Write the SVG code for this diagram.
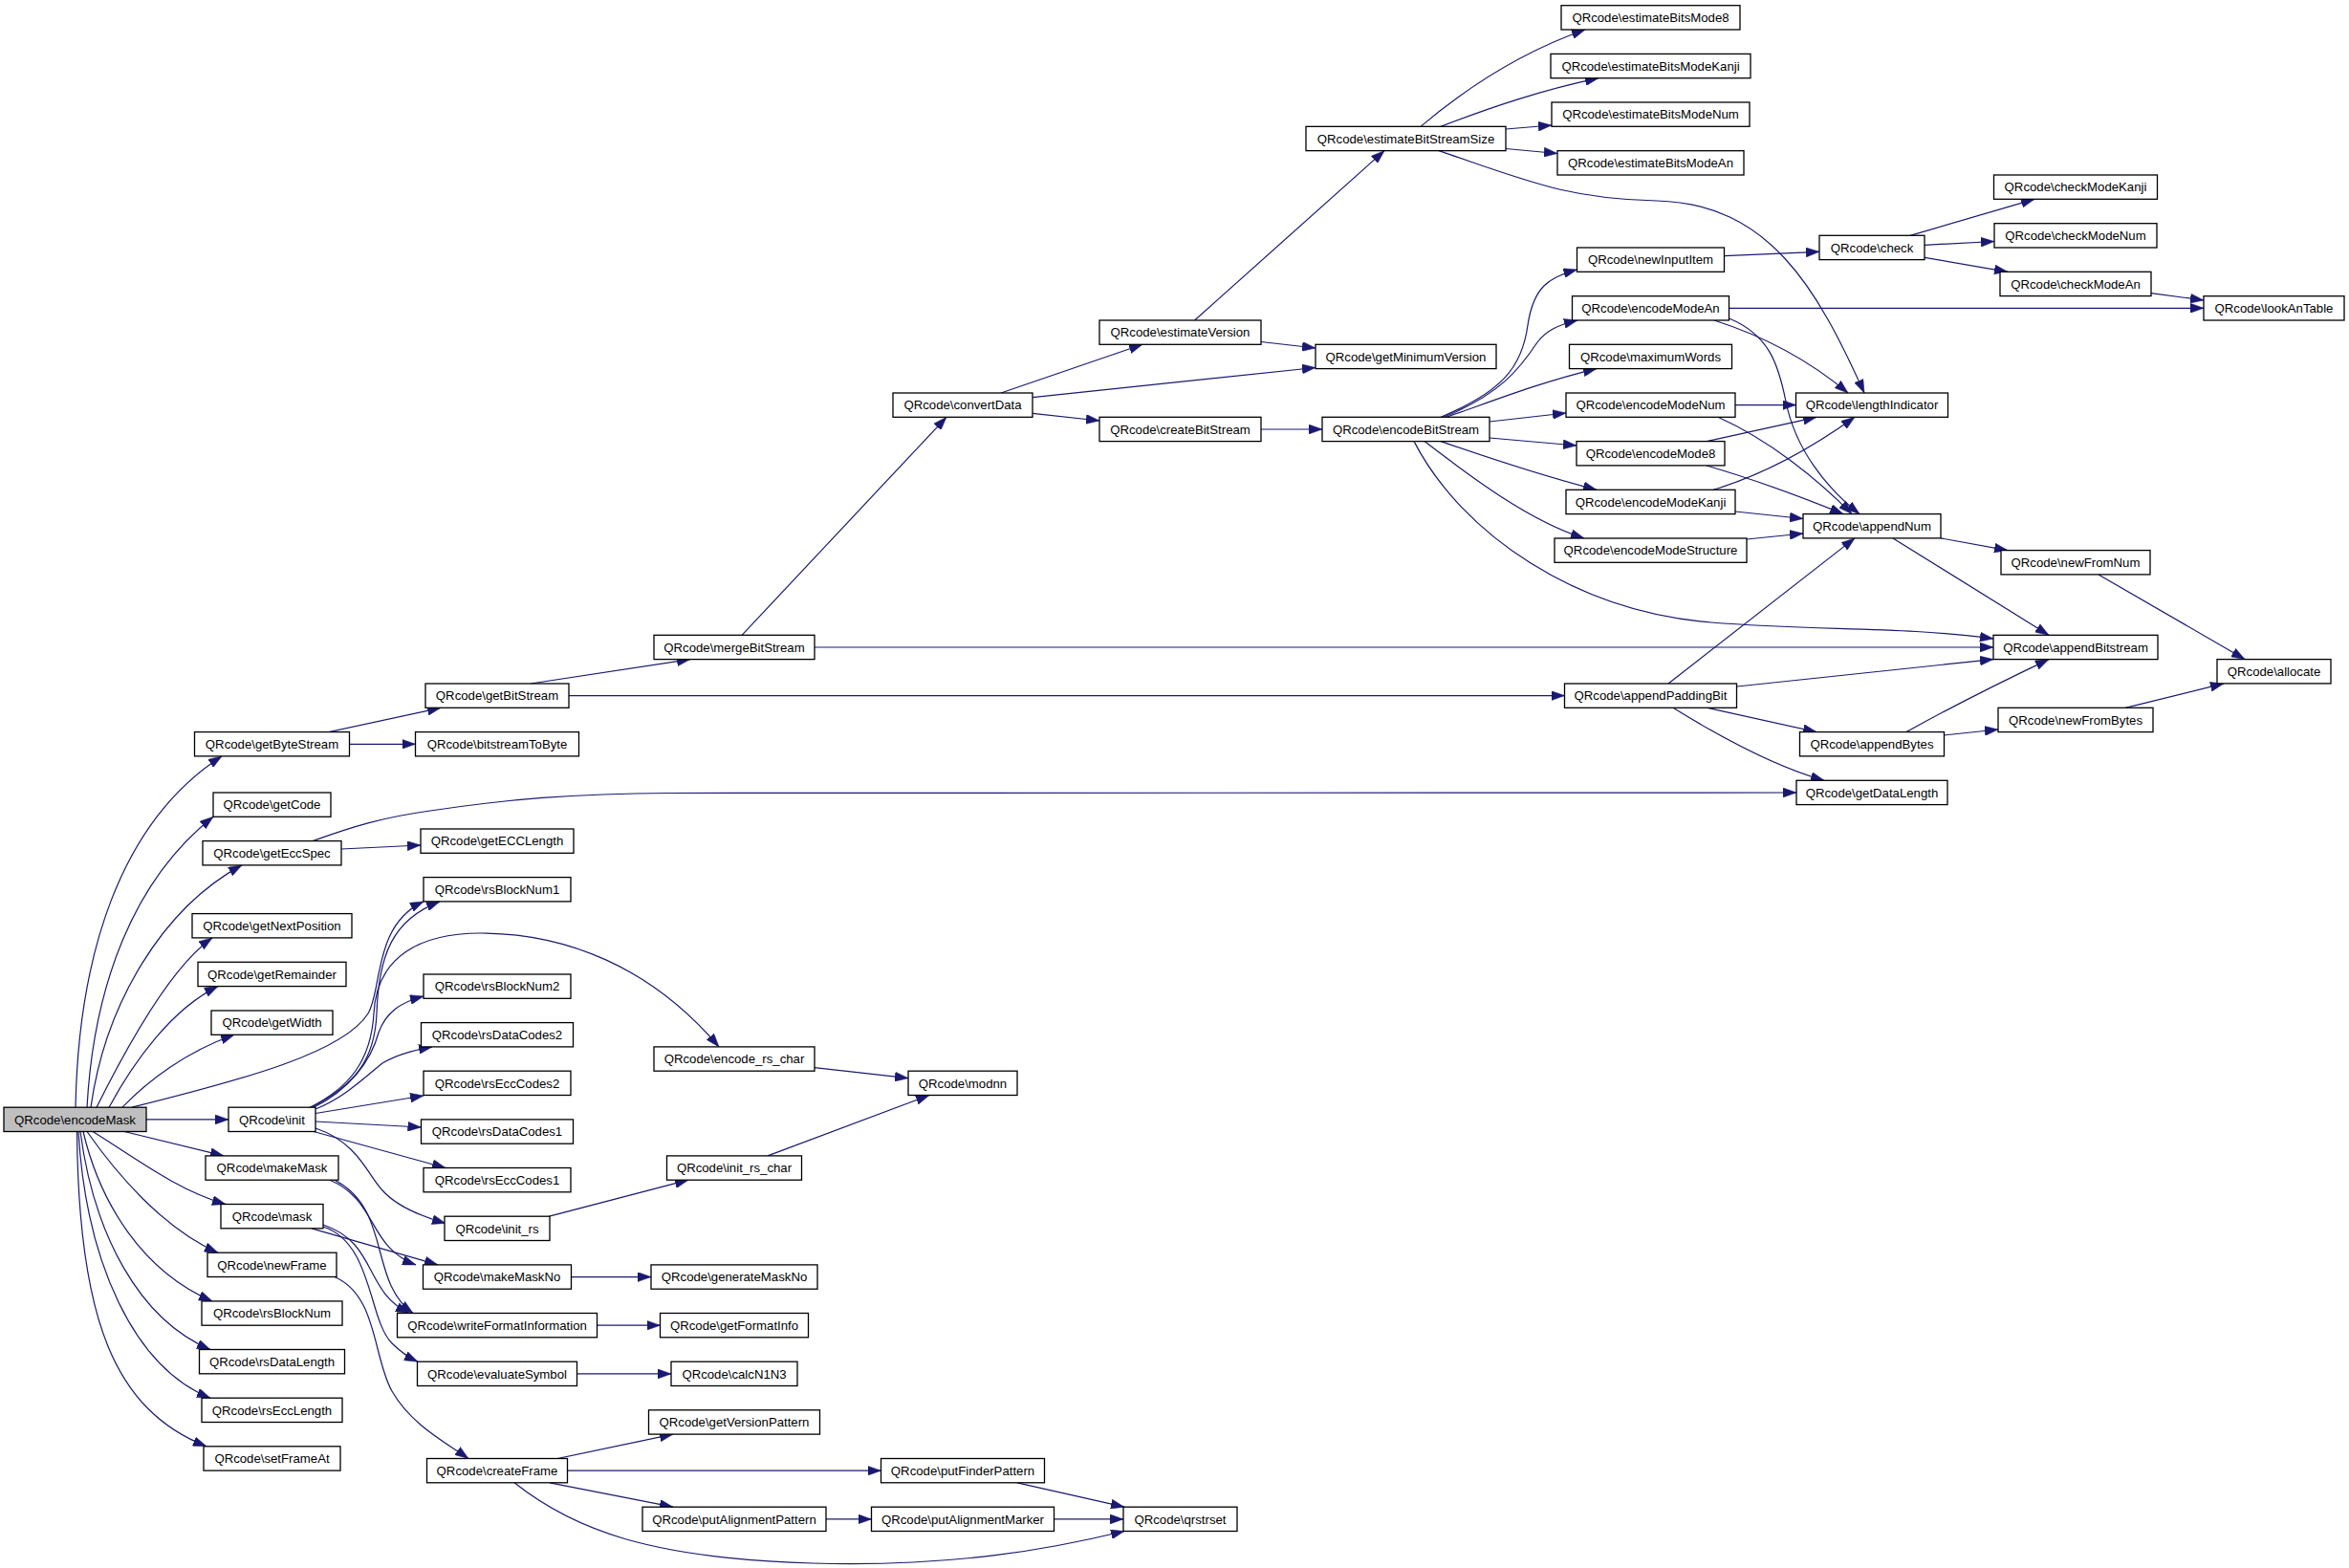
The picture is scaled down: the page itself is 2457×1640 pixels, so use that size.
<svg xmlns="http://www.w3.org/2000/svg" width="2457" height="1640" viewBox="0 0 2457 1640">
<style>
.n rect{fill:#fff;stroke:#000;stroke-width:1.3}
.n text{font-family:"Liberation Sans",Arial,sans-serif;font-size:13.2px;text-anchor:middle;fill:#000}
#encodeMask rect{fill:#bfbfbf}
.e path{fill:none;stroke:#191970;stroke-width:1.2;marker-end:url(#a)}
</style>
<defs>
<marker id="a" markerUnits="userSpaceOnUse" markerWidth="14" markerHeight="10" refX="14" refY="5" orient="auto" viewBox="0 0 14 10">
<path d="M0,0 L14,5 L0,10 z" fill="#191970" stroke="#191970" stroke-width="0.5"/>
</marker>
</defs>
<rect width="2457" height="1640" fill="#fff"/>
<g id="edges" class="e">
<path d="M79,1158.2 C82,1000 125,860 232,790.9"/>
<path d="M91,1158.2 C98,1030 140,920 223,854.3"/>
<path d="M95,1158.2 C110,1050 170,950 253,904.9"/>
<path d="M101,1158.2 C135,1090 180,1010 222,980.9"/>
<path d="M114,1158.2 C140,1110 180,1055 228,1031.6"/>
<path d="M128,1158.2 C155,1130 195,1100 245,1082.3"/>
<path d="M138,1158.2 C260,1128 360,1100 385,1060 C400,1035 390,968 443,942.9"/>
<path d="M153,1170.9 L239,1170.9"/>
<path d="M130,1183.5 L234,1208.9"/>
<path d="M97,1183.5 C140,1210 185,1245 236,1259.5"/>
<path d="M91,1183.5 C120,1225 170,1285 228,1310.2"/>
<path d="M87,1183.5 C105,1260 150,1330 222,1360.9"/>
<path d="M84,1183.5 C98,1290 145,1380 220,1411.5"/>
<path d="M82,1183.5 C90,1320 140,1430 220,1462.2"/>
<path d="M80.5,1183.5 C82,1380 120,1475 216,1512.8"/>
<path d="M326,1158.2 C370,1135 392,1110 394,1060 C396,1000 410,962 460,942.9"/>
<path d="M328,1158.2 C365,1140 388,1110 396,1080 C404,1058 420,1048 443,1042"/>
<path d="M330,1160 C360,1148 380,1128 400,1112 C415,1103 435,1098 452,1094.9"/>
<path d="M330,1164.5 L443,1146"/>
<path d="M330,1173 L440.5,1179"/>
<path d="M328,1183.5 L466,1221.5"/>
<path d="M330,1180 C375,1195 385,1230 400,1245 C415,1262 440,1272 466,1279.5"/>
<path d="M324,1158.2 C365,1138 388,1110 391,1060 C394,1000 440,976 503,976 C590,976 680,1010 752,1094.9"/>
<path d="M852,1116.7 L950,1127.7"/>
<path d="M574.5,1272.2 L720,1234.2"/>
<path d="M803,1208.9 L972,1145.5"/>
<path d="M345,1234.2 C395,1255 385,1305 435,1322.9"/>
<path d="M350,1234.2 C410,1265 385,1340 432,1373.5"/>
<path d="M326,1284.8 L458,1322.9"/>
<path d="M338,1281 C395,1300 380,1350 428,1373.5"/>
<path d="M338,1283 C390,1300 385,1380 410,1405 C420,1415 428,1420 437,1424.2"/>
<path d="M350,1335.5 C395,1355 390,1420 410,1455 C430,1490 465,1508 490,1525.5"/>
<path d="M597.5,1335.6 L681,1335.6"/>
<path d="M624.5,1386.2 L690.5,1386.2"/>
<path d="M603.5,1436.9 L702,1436.9"/>
<path d="M583,1525.5 L704,1500.1"/>
<path d="M593.5,1538.2 L921.5,1538.2"/>
<path d="M575,1550.8 L704,1576.2"/>
<path d="M538,1550.8 C600,1600 680,1630 850,1635 C1000,1639 1100,1620 1176,1601.5"/>
<path d="M864,1588.9 L911.5,1588.9"/>
<path d="M1102.5,1588.9 L1175,1588.9"/>
<path d="M1064,1550.8 L1176,1576.2"/>
<path d="M344,765.6 L461,740.3"/>
<path d="M365.5,778.3 L434.5,778.3"/>
<path d="M555,715 L722,689.6"/>
<path d="M595,727.6 L1636.5,727.6"/>
<path d="M776,664.3 L990,436.3"/>
<path d="M852,677 L2085,677"/>
<path d="M357,888 L440,884"/>
<path d="M327,879.6 C370,864 400,855 450,848 C530,836 600,830 700,829.5 L1879,829"/>
<path d="M1047,411 L1195,360.3"/>
<path d="M1080,415.7 L1376,384.5"/>
<path d="M1080,432.3 L1150,440"/>
<path d="M1249.6,335 L1448,157.65"/>
<path d="M1319,357.5 L1376,364"/>
<path d="M1319,449 L1383,449"/>
<path d="M1486,132.35 C1530,95 1590,55 1658,31"/>
<path d="M1507,132.35 C1560,112 1610,95 1672,81.7"/>
<path d="M1575,135 L1623,131"/>
<path d="M1575,155.5 L1629,160.5"/>
<path d="M1505,157.65 C1600,190 1640,208 1733,210 C1850,213 1900,300 1950,411"/>
<path d="M1507,436.3 C1570,410 1592,385 1598,340 C1604,300 1620,290 1649.5,282"/>
<path d="M1510,436.3 C1570,412 1590,385 1608,358 C1618,345 1630,340 1650,335"/>
<path d="M1513,436.3 C1560,420 1610,400 1670,385.6"/>
<path d="M1558,441 L1638,432"/>
<path d="M1558,458 L1649,466"/>
<path d="M1507,461.6 C1560,480 1610,497 1670,512.3"/>
<path d="M1490,461.6 C1540,500 1600,545 1657,563"/>
<path d="M1479,461.6 C1530,560 1650,640 1790,651 C1900,660 1990,655 2085,668"/>
<path d="M1803.5,267.7 L1903,263.3"/>
<path d="M1998,246.3 L2128,208.3"/>
<path d="M2013,256.3 L2086,252.5"/>
<path d="M2013,269.3 L2100,284.3"/>
<path d="M2250,306.7 L2305,314"/>
<path d="M1808.5,322.3 L2305,322.3"/>
<path d="M1793,335 C1840,350 1890,375 1933,411"/>
<path d="M1808.5,333 C1850,350 1860,380 1868,420 C1878,470 1910,510 1945,537.6"/>
<path d="M1815,423.6 L1878.5,423.6"/>
<path d="M1797,436.3 C1850,460 1900,500 1937,537.6"/>
<path d="M1785,461.6 L1900,436.3"/>
<path d="M1785,487 C1830,500 1880,518 1928,537.6"/>
<path d="M1792,512.3 C1850,495 1900,465 1940,436.3"/>
<path d="M1815,535 L1886,542.5"/>
<path d="M1827,564 L1886,558"/>
<path d="M2030,562.9 L2100,575.6"/>
<path d="M1980,562.9 L2143,664.3"/>
<path d="M2195,600.9 L2348,689.6"/>
<path d="M1745,715 L1940,562.9"/>
<path d="M1817,718 L2085,689.6"/>
<path d="M1786,740.3 L1900,765.6"/>
<path d="M1750,740.3 C1790,765 1850,800 1908,816.3"/>
<path d="M1994,765.6 C2040,740 2100,710 2143,689.6"/>
<path d="M2033,769 L2090,763"/>
<path d="M2223,740.3 L2326,714.9"/>
</g>
<g id="encodeMask" class="n"><rect x="4" y="1158.2" width="149" height="25.3"/><text x="78.5" y="1175.5">QRcode\encodeMask</text></g>
<g id="getByteStream" class="n"><rect x="203.5" y="765.6" width="162" height="25.3"/><text x="284.5" y="782.9">QRcode\getByteStream</text></g>
<g id="getCode" class="n"><rect x="223" y="829" width="123" height="25.3"/><text x="284.5" y="846.3">QRcode\getCode</text></g>
<g id="getEccSpec" class="n"><rect x="212" y="879.6" width="145" height="25.3"/><text x="284.5" y="896.9">QRcode\getEccSpec</text></g>
<g id="getNextPosition" class="n"><rect x="201" y="955.6" width="167" height="25.3"/><text x="284.5" y="972.9">QRcode\getNextPosition</text></g>
<g id="getRemainder" class="n"><rect x="207" y="1006.3" width="155" height="25.3"/><text x="284.5" y="1023.6">QRcode\getRemainder</text></g>
<g id="getWidth" class="n"><rect x="221" y="1057" width="127" height="25.3"/><text x="284.5" y="1074.3">QRcode\getWidth</text></g>
<g id="init" class="n"><rect x="239" y="1158.2" width="91" height="25.3"/><text x="284.5" y="1175.5">QRcode\init</text></g>
<g id="makeMask" class="n"><rect x="215" y="1208.9" width="139" height="25.3"/><text x="284.5" y="1226.2">QRcode\makeMask</text></g>
<g id="mask" class="n"><rect x="231" y="1259.5" width="107" height="25.3"/><text x="284.5" y="1276.8">QRcode\mask</text></g>
<g id="newFrame" class="n"><rect x="217" y="1310.2" width="135" height="25.3"/><text x="284.5" y="1327.5">QRcode\newFrame</text></g>
<g id="rsBlockNum" class="n"><rect x="211" y="1360.9" width="147" height="25.3"/><text x="284.5" y="1378.2">QRcode\rsBlockNum</text></g>
<g id="rsDataLength" class="n"><rect x="208.5" y="1411.5" width="152" height="25.3"/><text x="284.5" y="1428.8">QRcode\rsDataLength</text></g>
<g id="rsEccLength" class="n"><rect x="211" y="1462.2" width="147" height="25.3"/><text x="284.5" y="1479.5">QRcode\rsEccLength</text></g>
<g id="setFrameAt" class="n"><rect x="213" y="1512.8" width="143" height="25.3"/><text x="284.5" y="1530.1">QRcode\setFrameAt</text></g>
<g id="getBitStream" class="n"><rect x="445" y="715" width="150" height="25.3"/><text x="520" y="732.3">QRcode\getBitStream</text></g>
<g id="bitstreamToByte" class="n"><rect x="434.5" y="765.6" width="171" height="25.3"/><text x="520" y="782.9">QRcode\bitstreamToByte</text></g>
<g id="getECCLength" class="n"><rect x="440" y="867" width="160" height="25.3"/><text x="520" y="884.3">QRcode\getECCLength</text></g>
<g id="rsBlockNum1" class="n"><rect x="443" y="917.6" width="154" height="25.3"/><text x="520" y="934.9">QRcode\rsBlockNum1</text></g>
<g id="rsBlockNum2" class="n"><rect x="443" y="1019" width="154" height="25.3"/><text x="520" y="1036.3">QRcode\rsBlockNum2</text></g>
<g id="rsDataCodes2" class="n"><rect x="440.5" y="1069.6" width="159" height="25.3"/><text x="520" y="1086.9">QRcode\rsDataCodes2</text></g>
<g id="rsEccCodes2" class="n"><rect x="443" y="1120.2" width="154" height="25.3"/><text x="520" y="1137.5">QRcode\rsEccCodes2</text></g>
<g id="rsDataCodes1" class="n"><rect x="440.5" y="1170.9" width="159" height="25.3"/><text x="520" y="1188.2">QRcode\rsDataCodes1</text></g>
<g id="rsEccCodes1" class="n"><rect x="443" y="1221.5" width="154" height="25.3"/><text x="520" y="1238.8">QRcode\rsEccCodes1</text></g>
<g id="init_rs" class="n"><rect x="465" y="1272.2" width="110" height="25.3"/><text x="520" y="1289.5">QRcode\init_rs</text></g>
<g id="makeMaskNo" class="n"><rect x="442.5" y="1322.9" width="155" height="25.3"/><text x="520" y="1340.2">QRcode\makeMaskNo</text></g>
<g id="writeFormatInformation" class="n"><rect x="415.5" y="1373.5" width="209" height="25.3"/><text x="520" y="1390.8">QRcode\writeFormatInformation</text></g>
<g id="evaluateSymbol" class="n"><rect x="436.5" y="1424.2" width="167" height="25.3"/><text x="520" y="1441.5">QRcode\evaluateSymbol</text></g>
<g id="createFrame" class="n"><rect x="446.5" y="1525.5" width="147" height="25.3"/><text x="520" y="1542.8">QRcode\createFrame</text></g>
<g id="mergeBitStream" class="n"><rect x="684" y="664.3" width="168" height="25.3"/><text x="768" y="681.6">QRcode\mergeBitStream</text></g>
<g id="encode_rs_char" class="n"><rect x="684" y="1094.9" width="168" height="25.3"/><text x="768" y="1112.2">QRcode\encode_rs_char</text></g>
<g id="init_rs_char" class="n"><rect x="697.5" y="1208.9" width="141" height="25.3"/><text x="768" y="1226.2">QRcode\init_rs_char</text></g>
<g id="generateMaskNo" class="n"><rect x="681" y="1322.9" width="174" height="25.3"/><text x="768" y="1340.2">QRcode\generateMaskNo</text></g>
<g id="getFormatInfo" class="n"><rect x="690.5" y="1373.5" width="155" height="25.3"/><text x="768" y="1390.8">QRcode\getFormatInfo</text></g>
<g id="calcN1N3" class="n"><rect x="702" y="1424.2" width="132" height="25.3"/><text x="768" y="1441.5">QRcode\calcN1N3</text></g>
<g id="getVersionPattern" class="n"><rect x="678.5" y="1474.8" width="179" height="25.3"/><text x="768" y="1492.1">QRcode\getVersionPattern</text></g>
<g id="putAlignmentPattern" class="n"><rect x="672" y="1576.2" width="192" height="25.3"/><text x="768" y="1593.5">QRcode\putAlignmentPattern</text></g>
<g id="convertData" class="n"><rect x="934" y="411" width="146" height="25.3"/><text x="1007" y="428.3">QRcode\convertData</text></g>
<g id="modnn" class="n"><rect x="950" y="1120.2" width="114" height="25.3"/><text x="1007" y="1137.5">QRcode\modnn</text></g>
<g id="putFinderPattern" class="n"><rect x="921.5" y="1525.5" width="171" height="25.3"/><text x="1007" y="1542.8">QRcode\putFinderPattern</text></g>
<g id="putAlignmentMarker" class="n"><rect x="911.5" y="1576.2" width="191" height="25.3"/><text x="1007" y="1593.5">QRcode\putAlignmentMarker</text></g>
<g id="estimateVersion" class="n"><rect x="1150" y="335" width="169" height="25.3"/><text x="1234.5" y="352.3">QRcode\estimateVersion</text></g>
<g id="createBitStream" class="n"><rect x="1150" y="436.3" width="169" height="25.3"/><text x="1234.5" y="453.6">QRcode\createBitStream</text></g>
<g id="qrstrset" class="n"><rect x="1175" y="1576.2" width="119" height="25.3"/><text x="1234.5" y="1593.5">QRcode\qrstrset</text></g>
<g id="estimateBitStreamSize" class="n"><rect x="1366" y="132.35" width="209" height="25.3"/><text x="1470.5" y="149.65">QRcode\estimateBitStreamSize</text></g>
<g id="getMinimumVersion" class="n"><rect x="1376" y="360.3" width="189" height="25.3"/><text x="1470.5" y="377.6">QRcode\getMinimumVersion</text></g>
<g id="encodeBitStream" class="n"><rect x="1383" y="436.3" width="175" height="25.3"/><text x="1470.5" y="453.6">QRcode\encodeBitStream</text></g>
<g id="estimateBitsMode8" class="n"><rect x="1633" y="5.7" width="187" height="25.3"/><text x="1726.5" y="23">QRcode\estimateBitsMode8</text></g>
<g id="estimateBitsModeKanji" class="n"><rect x="1622" y="56.4" width="209" height="25.3"/><text x="1726.5" y="73.7">QRcode\estimateBitsModeKanji</text></g>
<g id="estimateBitsModeNum" class="n"><rect x="1623" y="107" width="207" height="25.3"/><text x="1726.5" y="124.3">QRcode\estimateBitsModeNum</text></g>
<g id="estimateBitsModeAn" class="n"><rect x="1629" y="157.7" width="195" height="25.3"/><text x="1726.5" y="175">QRcode\estimateBitsModeAn</text></g>
<g id="newInputItem" class="n"><rect x="1649.5" y="259" width="154" height="25.3"/><text x="1726.5" y="276.3">QRcode\newInputItem</text></g>
<g id="encodeModeAn" class="n"><rect x="1644.5" y="309.7" width="164" height="25.3"/><text x="1726.5" y="327">QRcode\encodeModeAn</text></g>
<g id="maximumWords" class="n"><rect x="1641.5" y="360.3" width="170" height="25.3"/><text x="1726.5" y="377.6">QRcode\maximumWords</text></g>
<g id="encodeModeNum" class="n"><rect x="1638" y="411" width="177" height="25.3"/><text x="1726.5" y="428.3">QRcode\encodeModeNum</text></g>
<g id="encodeMode8" class="n"><rect x="1649" y="461.6" width="155" height="25.3"/><text x="1726.5" y="478.9">QRcode\encodeMode8</text></g>
<g id="encodeModeKanji" class="n"><rect x="1638" y="512.3" width="177" height="25.3"/><text x="1726.5" y="529.6">QRcode\encodeModeKanji</text></g>
<g id="encodeModeStructure" class="n"><rect x="1626" y="563" width="201" height="25.3"/><text x="1726.5" y="580.3">QRcode\encodeModeStructure</text></g>
<g id="appendPaddingBit" class="n"><rect x="1636.5" y="715" width="180" height="25.3"/><text x="1726.5" y="732.3">QRcode\appendPaddingBit</text></g>
<g id="check" class="n"><rect x="1903" y="246.3" width="110" height="25.3"/><text x="1958" y="263.6">QRcode\check</text></g>
<g id="lengthIndicator" class="n"><rect x="1878.5" y="411" width="159" height="25.3"/><text x="1958" y="428.3">QRcode\lengthIndicator</text></g>
<g id="appendNum" class="n"><rect x="1886" y="537.6" width="144" height="25.3"/><text x="1958" y="554.9">QRcode\appendNum</text></g>
<g id="appendBytes" class="n"><rect x="1882.5" y="765.6" width="151" height="25.3"/><text x="1958" y="782.9">QRcode\appendBytes</text></g>
<g id="getDataLength" class="n"><rect x="1879" y="816.3" width="158" height="25.3"/><text x="1958" y="833.6">QRcode\getDataLength</text></g>
<g id="checkModeKanji" class="n"><rect x="2085.5" y="183" width="171" height="25.3"/><text x="2171" y="200.3">QRcode\checkModeKanji</text></g>
<g id="checkModeNum" class="n"><rect x="2086" y="233.7" width="170" height="25.3"/><text x="2171" y="251">QRcode\checkModeNum</text></g>
<g id="checkModeAn" class="n"><rect x="2092" y="284.3" width="158" height="25.3"/><text x="2171" y="301.6">QRcode\checkModeAn</text></g>
<g id="newFromNum" class="n"><rect x="2093" y="575.6" width="156" height="25.3"/><text x="2171" y="592.9">QRcode\newFromNum</text></g>
<g id="appendBitstream" class="n"><rect x="2085" y="664.3" width="172" height="25.3"/><text x="2171" y="681.6">QRcode\appendBitstream</text></g>
<g id="newFromBytes" class="n"><rect x="2090" y="740.3" width="162" height="25.3"/><text x="2171" y="757.6">QRcode\newFromBytes</text></g>
<g id="lookAnTable" class="n"><rect x="2305" y="309.7" width="147" height="25.3"/><text x="2378.5" y="327">QRcode\lookAnTable</text></g>
<g id="allocate" class="n"><rect x="2319" y="689.6" width="119" height="25.3"/><text x="2378.5" y="706.9">QRcode\allocate</text></g>
</svg>
